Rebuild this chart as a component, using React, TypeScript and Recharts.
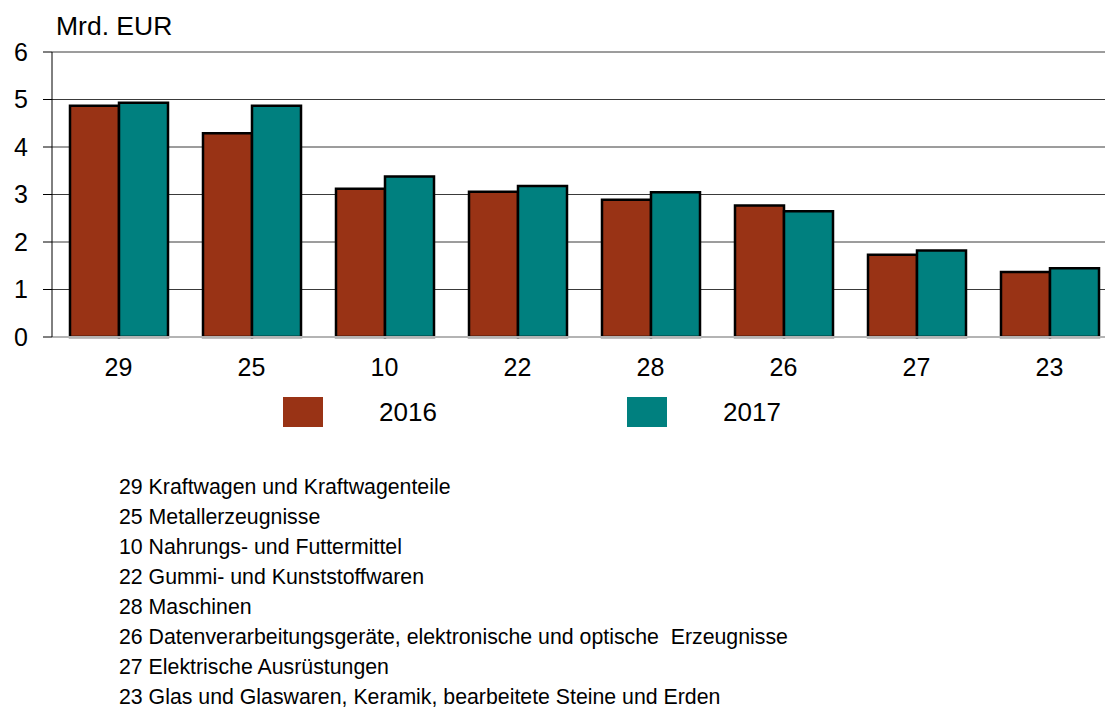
import { BarChart, Bar, XAxis, YAxis, CartesianGrid } from 'recharts';

// Industry codes (WZ 2008) on the x axis
const categories = ['29', '25', '10', '22', '28', '26', '27', '23'];
const values2016 = [4.87, 4.29, 3.12, 3.06, 2.89, 2.77, 1.73, 1.37];
const values2017 = [4.93, 4.87, 3.38, 3.18, 3.05, 2.65, 1.82, 1.45];
const yTicks = [0, 1, 2, 3, 4, 5, 6];

const seriesNames = ['2016', '2017'];
const seriesColors = ['#993315', '#00807F'];

const footnotes = [
  '29 Kraftwagen und Kraftwagenteile',
  '25 Metallerzeugnisse',
  '10 Nahrungs- und Futtermittel',
  '22 Gummi- und Kunststoffwaren',
  '28 Maschinen',
  '26 Datenverarbeitungsgeräte, elektronische und optische  Erzeugnisse',
  '27 Elektrische Ausrüstungen',
  '23 Glas und Glaswaren, Keramik, bearbeitete Steine und Erden',
];

const FONT = '"Liberation Sans", Arial, sans-serif';

const data = categories.map((c, i) => ({
  code: c,
  y2016: values2016[i],
  y2017: values2017[i],
}));

export default function App() {
  return (
    <div
      style={{
        position: 'fixed',
        left: 0,
        top: 0,
        width: 1105,
        height: 713,
        overflow: 'hidden',
        background: '#fff',
        fontFamily: FONT,
        color: '#000',
      }}
    >
      <div style={{ position: 'absolute', left: 56, top: 13, fontSize: 26.5, lineHeight: 1 }}>Mrd. EUR</div>

      <div style={{ position: 'absolute', left: 0, top: 0 }}>
        <BarChart
          width={1125}
          height={400}
          data={data}
          margin={{ top: 52, right: 9, left: 0, bottom: 23 }}
          barCategoryGap={18}
          barGap={0}
        >
          <CartesianGrid vertical={false} stroke="#3a3a3a" strokeWidth={1} />
          <XAxis
            dataKey="code"
            axisLine={{ stroke: '#b4b4b4', strokeWidth: 2 }}
            tickLine={false}
            tickSize={0}
            tickMargin={21}
            height={40}
            interval={0}
            tick={{ fontSize: 25, fill: '#000', fontFamily: FONT }}
          />
          <YAxis
            domain={[0, 6]}
            ticks={yTicks}
            width={52}
            axisLine={{ stroke: '#000', strokeWidth: 1 }}
            tickLine={{ stroke: '#000' }}
            tickSize={9}
            tickMargin={15}
            tick={{ fontSize: 25, fill: '#000', fontFamily: FONT }}
          />
          <Bar dataKey="y2016" fill={seriesColors[0]} stroke="#000" strokeWidth={2.5} isAnimationActive={false} />
          <Bar dataKey="y2017" fill={seriesColors[1]} stroke="#000" strokeWidth={2.5} isAnimationActive={false} />
        </BarChart>
      </div>

      {/* legend */}
      <div style={{ position: 'absolute', left: 283, top: 397, display: 'flex', alignItems: 'center' }}>
        {seriesNames.map((name, i) => (
          <div key={name} style={{ display: 'flex', alignItems: 'center', marginRight: i === 0 ? 190 : 0 }}>
            <div style={{ width: 40, height: 30, background: seriesColors[i] }} />
            <span style={{ marginLeft: 56, fontSize: 26, lineHeight: '30px', width: 58 }}>{name}</span>
          </div>
        ))}
      </div>

      {/* footnotes */}
      <div style={{ position: 'absolute', left: 119, top: 472, fontSize: 21.3, lineHeight: '30px' }}>
        {footnotes.map((t) => (
          <div key={t} style={{ whiteSpace: 'pre' }}>{t}</div>
        ))}
      </div>
    </div>
  );
}
